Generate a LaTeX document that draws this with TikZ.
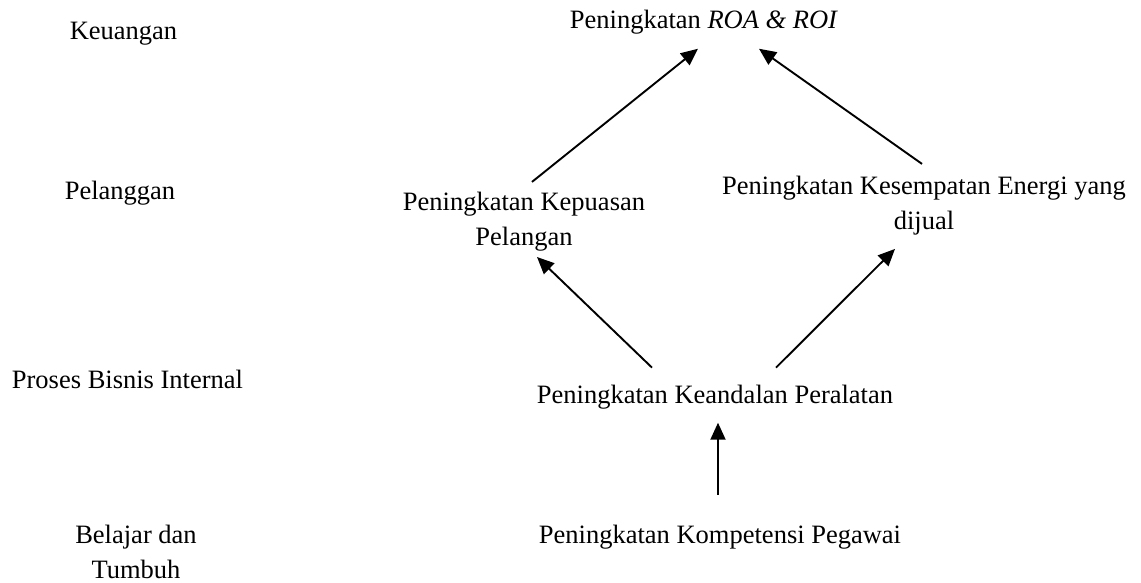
\documentclass[tikz,border=0pt]{standalone}
\usepackage{fontspec}
\setmainfont{Liberation Serif}
\usetikzlibrary{arrows.meta,calc}
\begin{document}
\begin{tikzpicture}[x=1pt,y=-1pt,
  lbl/.style={inner sep=0pt,outer sep=0pt,font=\fontsize{26.5}{35}\selectfont,align=center},
  arr/.style={line width=1.9pt,-{Triangle[length=17pt,width=15pt]}}]
\useasboundingbox (0,0) rectangle (1141,582);
% perspective labels
\node[lbl,anchor=base] (keu) at (123.5,39) {Keuangan};
\node[lbl,anchor=base] (pel) at (120,199) {Pelanggan};
\node[lbl,anchor=base] (pro) at (127.5,388) {Proses Bisnis Internal};
\node[lbl,anchor=north] (bel) at (136,524.9) {Belajar dan\\Tumbuh};
% objectives
\node[lbl,anchor=base] (roa) at (704,28) {Peningkatan \textit{ROA \& ROI}};
\node[lbl,anchor=north] (kep) at (524,191.9) {Peningkatan Kepuasan\\Pelangan};
\node[lbl,anchor=north] (ene) at (924,175.9) {Peningkatan Kesempatan Energi yang\\dijual};
\node[lbl,anchor=base] (kea) at (715,403) {Peningkatan Keandalan Peralatan};
\node[lbl,anchor=base] (kom) at (720,543) {Peningkatan Kompetensi Pegawai};
% connectors
\draw[arr] ($(kep.north)+(8,-10)$) -- ($(roa.south)+(-6,15)$);
\draw[arr] ($(ene.north)+(-2,-12)$) -- ($(roa.south)+(55,15)$);
\draw[arr] ($(kea.north)+(-63,-17)$) -- ($(kep.south)+(13,6)$);
\draw[arr] ($(kea.north)+(61,-17)$) -- ($(ene.south)+(-29,14)$);
\draw[arr] ($(kom.north)+(-2,-30)$) -- ($(kea.south)+(3,14)$);
\end{tikzpicture}
\end{document}
